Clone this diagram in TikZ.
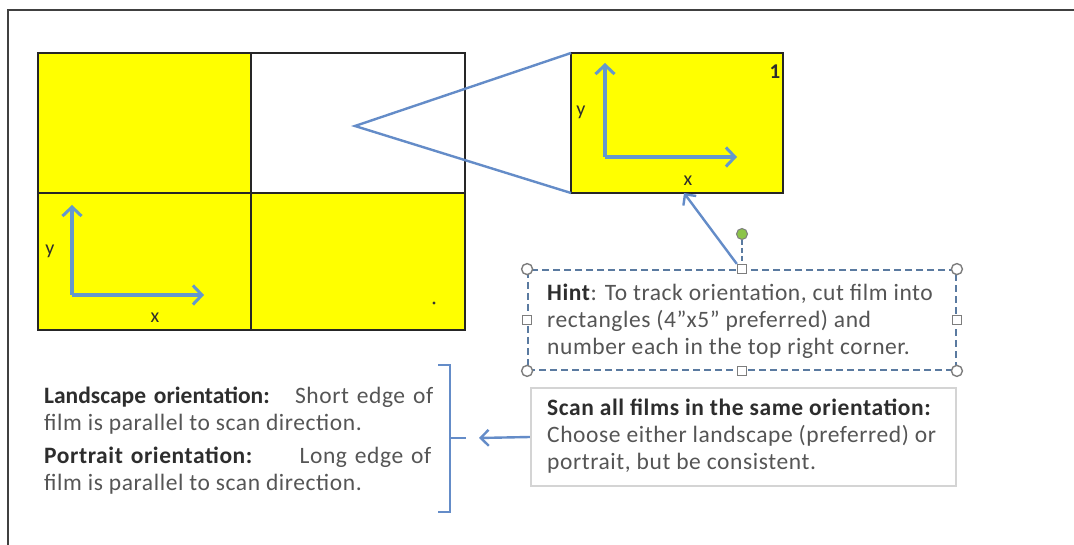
\documentclass[tikz,border=0pt]{standalone}
\usepackage{fontspec}
\setmainfont{Carlito}[LetterSpace=2.5]
\usetikzlibrary{arrows.meta,calc}

\definecolor{filmyellow}{RGB}{255,255,0}
\definecolor{linkblue}{RGB}{100,140,200}
\definecolor{axisblue}{RGB}{100,152,205}
\definecolor{txtgray}{RGB}{85,85,85}
\definecolor{txtdark}{RGB}{45,45,45}
\definecolor{handlegray}{RGB}{125,125,125}
\definecolor{selblue}{RGB}{90,122,160}
\definecolor{boxgray}{RGB}{212,212,212}
\definecolor{handlegreen}{RGB}{140,196,72}

\tikzset{
  cell/.style={draw=black!85, line width=2.6pt, anchor=north west, inner sep=0pt, outer sep=0pt},
  axisarrow/.style={draw=axisblue, line width=3.2pt, -{Straight Barb[length=9pt,width=19pt,line width=3pt]}},
  linkarrow/.style={draw=linkblue, line width=2.4pt, -{Straight Barb[length=8pt,width=16pt,line width=2.4pt]}},
  axislabel/.style={text=txtdark, font=\fontsize{20}{22}\selectfont, inner sep=0pt},
  line/.style={anchor=base west, inner sep=0pt, text=txtgray, font=\fontsize{23.5}{27}\selectfont},
  cornerhandle/.style={circle, draw=handlegray, fill=white, line width=1.4pt, minimum size=11pt, inner sep=0pt},
  sidehandle/.style={rectangle, draw=handlegray, fill=white, line width=1.4pt, minimum size=9pt, inner sep=0pt},
}

\begin{document}
\begin{tikzpicture}[x=1pt,y=-1pt]
\useasboundingbox (0,0) rectangle (1074,545);
\fill[white] (0,0) rectangle (1074,545);

% page frame
\draw[line width=2.6pt, black!75] (1074,10) -- (8,10) -- (8,545);

% the film cut into four pieces
\node[cell, fill=filmyellow, minimum width=213pt, minimum height=140pt] (tl) at (38,53) {};
\node[cell, fill=white,      minimum width=214pt, minimum height=140pt] (tr) at (251,53) {};
\node[cell, fill=filmyellow, minimum width=213pt, minimum height=137pt] (bl) at (38,193) {};
\node[cell, fill=filmyellow, minimum width=214pt, minimum height=137pt] (br) at (251,193) {};
\fill[black!80] (434,303) circle (1.6pt);

% axes on the lower-left piece
\draw[axisarrow] (72,295) -- (72,205);
\draw[axisarrow] (72,295) -- (204,295);
\node[axislabel] (bly) at (50,251) {y};
\node[axislabel] (blx) at (155,318) {x};

% enlarged piece
\node[cell, fill=filmyellow, minimum width=212pt, minimum height=140pt] (zoom) at (571,53) {};
\draw[axisarrow] (605,157) -- (605,63);
\draw[axisarrow] (605,157) -- (737,157);
\node[axislabel] (zy) at (581,112) {y};
\node[axislabel] (zx) at (688,181) {x};
\node[axislabel, font=\fontsize{21}{22}\selectfont\bfseries] (znum) at (775,72) {1};

% call-out from the white piece to the enlarged piece
\coordinate (apex) at (355,126);
\draw[linkblue, line width=2.4pt, line join=miter] (zoom.north west) -- (apex) -- (zoom.south west);

% hint text box with its selection handles
\node[draw=selblue, dashed, dash pattern=on 7pt off 4pt, line width=1.8pt,
      minimum width=428pt, minimum height=100pt, inner sep=0pt] (hint) at (742,320) {};
\node[cornerhandle] (h1) at (hint.north west) {};
\node[cornerhandle] (h2) at (hint.north east) {};
\node[cornerhandle] (h3) at (hint.south west) {};
\node[cornerhandle] (h4) at (hint.south east) {};
\node[sidehandle] (hn) at (hint.north) {};
\node[sidehandle] (hs) at (hint.south) {};
\node[sidehandle] (hw) at (hint.west) {};
\node[sidehandle] (he) at (hint.east) {};
\node[circle, draw=handlegray, fill=handlegreen, line width=1pt, minimum size=11pt, inner sep=0pt] (rot) at (742,234) {};
\draw[selblue, dashed, dash pattern=on 5pt off 3pt, line width=1.6pt] (rot) -- (hn);

\node[line] (hint1) at (547,301) {\textcolor{txtdark}{\textbf{Hint}}: To track orientation, cut film into};
\node[line] (hint2) at (547,328) {rectangles (4"x5" preferred) and};
\node[line] (hint3) at (547,355) {number each in the top right corner.};

\draw[linkarrow] (hn.north west) -- ($(zoom.south)+(7,0)$);

% scan box
\node[draw=boxgray, line width=2.4pt, minimum width=425pt, minimum height=98pt, inner sep=0pt] (scan) at (743.5,437) {};
\node[line] (scan1) at (547,415) {\textcolor{txtdark}{\textbf{Scan all films in the same orientation:}}};
\node[line] (scan2) at (547,442) {Choose either landscape (preferred) or};
\node[line] (scan3) at (547,469) {portrait, but be consistent.};

% bracket round the two orientation definitions
\draw[linkblue, line width=2.4pt] (438,365) -- (450,365) -- (450,512) -- (438,512);
\draw[linkblue, line width=2.4pt] (450,438) -- (466,438) coordinate (brace);
\draw[linkarrow] (scan.west) -- ($(brace)+(13,0)$);

% orientation definitions
\node[line, text width=389pt] (land1) at (44,403) {\textcolor{txtdark}{\addfontfeatures{LetterSpace=0}\textbf{Landscape orientation:}}\hfill Short edge of};
\node[line] (land2) at (44,430) {film is parallel to scan direction.};
\node[line, text width=387pt] (port1) at (44,463) {\textcolor{txtdark}{\textbf{Portrait orientation:}}\hfill Long edge of};
\node[line] (port2) at (44,490) {film is parallel to scan direction.};
\end{tikzpicture}
\end{document}
